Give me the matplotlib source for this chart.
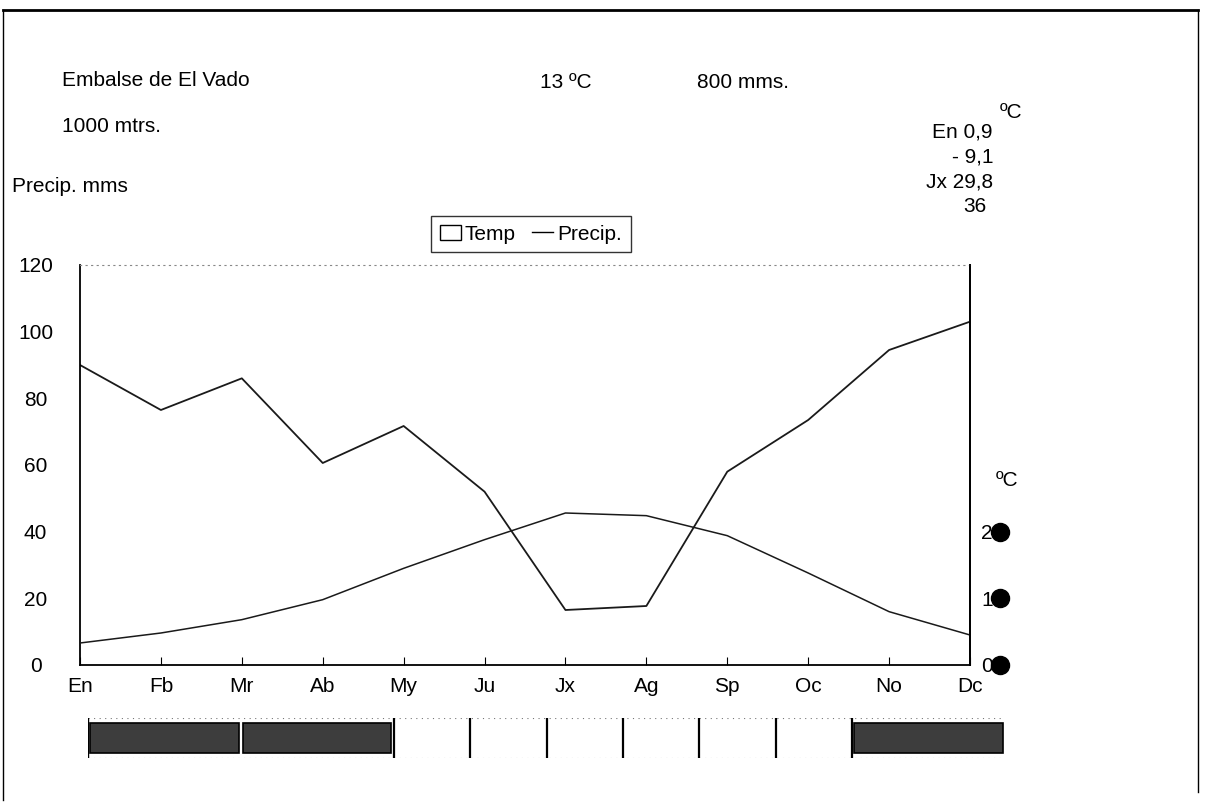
import matplotlib.pyplot as plt
from matplotlib.patches import Rectangle, Patch
from matplotlib.lines import Line2D

plt.rcParams["font.family"] = ["Liberation Sans", "DejaVu Sans"]

months = ["En", "Fb", "Mr", "Ab", "My", "Ju", "Jx", "Ag", "Sp", "Oc", "No", "Dc"]
precip = [90, 76.5, 86, 60.6, 71.7, 52, 16.5, 17.7, 58, 73.5, 94.5, 103]
temp = [3.3, 4.8, 6.8, 9.8, 14.5, 18.8, 22.8, 22.4, 19.4, 13.8, 8.0, 4.5]
frost = [1, 1, 1, 1, 0, 0, 0, 0, 0, 0, 1, 1]
precip_ticks = [0, 20, 40, 60, 80, 100, 120]
temp_ticks = [0, 10, 20]

W, H = 1207, 807


def fx(x):
    return x / W


def fy(y):
    return 1 - y / H


fig = plt.figure(figsize=(W / 100, H / 100), dpi=100)

# page frame of the scan
frame = fig.add_axes([0, 0, 1, 1], facecolor="none")
frame.set_xlim(0, W)
frame.set_ylim(H, 0)
frame.axis("off")
frame.plot([3, 1198], [10, 10], color="black", lw=2)
frame.plot([3, 3], [10, 800], color="black", lw=1)
frame.plot([1198, 1198], [10, 792], color="black", lw=1)

fs = 15

ax = fig.add_axes([fx(80), fy(665), fx(970) - fx(80), fy(265) - fy(665)])
x = list(range(len(months)))
ax.plot(x, precip, color="#1a1a1a", lw=1.3)
ax.set_xlim(0, len(months) - 1)
ax.set_ylim(0, 120)
ax.set_xticks(x)
ax.set_xticklabels(months, fontsize=fs)
ax.set_yticks(precip_ticks)
ax.set_yticklabels([str(v) for v in precip_ticks], fontsize=fs)
for lab in ax.get_yticklabels():
    lab.set_ha("center")
ax.tick_params(axis="y", length=0, pad=32)
ax.tick_params(axis="x", direction="in", length=6, pad=9)
ax.spines["top"].set_linestyle((0, (1, 4)))
ax.spines["top"].set_color("#888888")
ax.spines["top"].set_linewidth(0.8)
for s in ["left", "bottom", "right"]:
    ax.spines[s].set_linewidth(1.3)

ax2 = ax.twinx()
ax2.plot(x, temp, color="#1a1a1a", lw=1.1)
ax2.set_ylim(0, 60)
ax2.set_yticks(temp_ticks)
ax2.set_yticklabels([str(v) for v in temp_ticks], fontsize=fs)
ax2.tick_params(axis="y", length=0, pad=8)
for s in ["top", "left", "bottom"]:
    ax2.spines[s].set_visible(False)
ax2.spines["right"].set_linewidth(1.3)
# blotted dots over the scanned tick labels
ax2.plot([1.034] * len(temp_ticks), temp_ticks, "o", color="black",
         ms=13, transform=ax2.get_yaxis_transform(), clip_on=False)

legend = ax.legend(
    [Patch(facecolor="white", edgecolor="black"), Line2D([], [], color="black", lw=1)],
    ["Temp", "Precip."],
    ncol=2, loc="center", bbox_to_anchor=(fx(531), fy(234)),
    bbox_transform=fig.transFigure, fontsize=fs, frameon=True, fancybox=False,
    handlelength=1.0, handletextpad=0.2, columnspacing=0.8, borderpad=0.4,
)
legend.get_frame().set_edgecolor("black")
legend.get_frame().set_linewidth(1.0)

# header texts
fig.text(fx(62), fy(80), "Embalse de El Vado", fontsize=fs, va="center")
fig.text(fx(62), fy(127), "1000 mtrs.", fontsize=fs, va="center")
fig.text(fx(540), fy(82), "13 ºC", fontsize=fs, va="center")
fig.text(fx(697), fy(82), "800 mms.", fontsize=fs, va="center")
fig.text(fx(12), fy(186), "Precip. mms", fontsize=fs, va="center")
fig.text(fx(1000), fy(112), "ºC", fontsize=fs, va="center")
fig.text(fx(993), fy(132), "En 0,9", fontsize=fs, va="center", ha="right")
fig.text(fx(993), fy(157), "- 9,1", fontsize=fs, va="center", ha="right")
fig.text(fx(993), fy(182), "Jx 29,8", fontsize=fs, va="center", ha="right")
fig.text(fx(986), fy(206), "36", fontsize=fs, va="center", ha="right")
fig.text(fx(996), fy(481), "ºC", fontsize=fs, va="center")

# frost months strip
bar = fig.add_axes([fx(88), fy(758), fx(1005) - fx(88), fy(718) - fy(758)])
bar.set_xlim(0, 12)
bar.set_ylim(0, 1)
bar.axis("off")
bar.plot([0, 12], [1, 1], color="#777777", lw=0.8, ls=(0, (1, 4)))
bar.plot([0, 12], [0, 0], color="#777777", lw=0.8, ls=(0, (1, 4)))
i = 0
while i < 12:
    if frost[i] and i + 1 < 12 and frost[i + 1]:
        bar.add_patch(Rectangle((i + 0.03, 0.12), 1.94, 0.76, facecolor="#3d3d3d",
                                edgecolor="black", lw=1.2))
        i += 2
    else:
        if not frost[i]:
            bar.plot([i + 1, i + 1], [0, 1], color="black", lw=1.6)
        i += 1
bar.plot([0, 0], [0, 1], color="black", lw=1.0)
bar.plot([4, 4], [0, 1], color="black", lw=1.6)

fig.savefig("out.png", dpi=100)
